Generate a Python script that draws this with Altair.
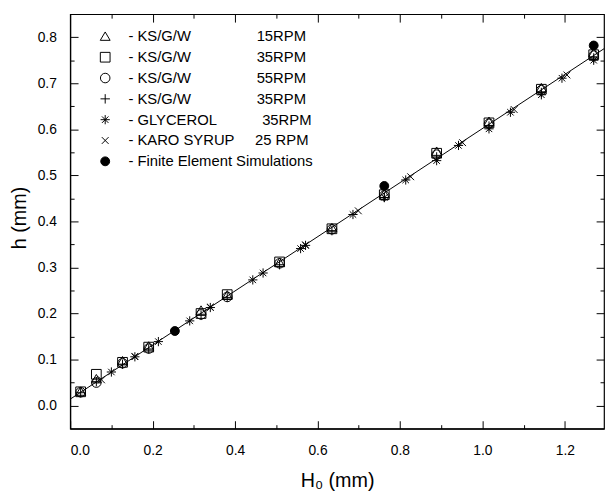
import altair as alt
import pandas as pd

NB = "\u00a0"

# ---- legend categories (display order) ----
series = [
    "- KS/G/W" + NB * 16 + "15RPM",
    "- KS/G/W" + NB * 16 + "35RPM",
    "- KS/G/W" + NB * 16 + "55RPM",
    "- KS/G/W" + NB * 16 + "35RPM" + NB,
    "- GLYCEROL" + NB * 11 + "35RPM",
    "- KARO SYRUP" + NB * 5 + "25 RPM",
    "- Finite Element Simulations",
]
shapes = [
    "M0,-0.9L1,0.8L-1,0.8Z",
    "square",
    "circle",
    "M-1,0H1M0,-1V1",
    "M-1,0H1M0,-1V1M-0.7,-0.7L0.7,0.7M-0.7,0.7L0.7,-0.7",
    "M-0.75,-0.75L0.75,0.75M-0.75,0.75L0.75,-0.75",
    "circle",
]
fills = ["transparent"] * 6 + ["black"]
strokes = ["black"] * 7
sizes = [100, 81, 90, 100, 100, 81, 169]

# ---- data ----
ksgw_x = [0.0254, 0.0635, 0.127, 0.1905, 0.3175, 0.381, 0.508, 0.635, 0.762, 0.889, 1.016, 1.143, 1.27]
tri_y = [0.031, 0.058, 0.097, 0.129, 0.207, 0.240, 0.311, 0.386, 0.460, 0.552, 0.617, 0.690, 0.766]
sq_y = [0.030, 0.068, 0.094, 0.127, 0.200, 0.241, 0.312, 0.384, 0.458, 0.548, 0.614, 0.687, 0.762]
circ_y = [0.029, 0.050, 0.092, 0.124, 0.198, 0.236, 0.309, 0.383, 0.456, 0.545, 0.612, 0.685, 0.760]
plus_y = [0.028, 0.052, 0.090, 0.123, 0.196, 0.235, 0.306, 0.380, 0.452, 0.540, 0.607, 0.680, 0.755]

gly_x = [0.1, 0.157, 0.214, 0.29, 0.34, 0.443, 0.468, 0.559, 0.571, 0.686, 0.762, 0.814,
         0.889, 0.942, 1.016, 1.068, 1.143, 1.193, 1.27]
gly_y = [0.073, 0.106, 0.139, 0.184, 0.213, 0.273, 0.288, 0.341, 0.348, 0.415, 0.452, 0.490,
         0.532, 0.565, 0.601, 0.637, 0.675, 0.711, 0.750]

karo_x = [0.076, 0.157, 0.34, 0.571, 0.699, 0.826, 0.952, 1.077, 1.205]
karo_y = [0.056, 0.107, 0.214, 0.349, 0.423, 0.497, 0.571, 0.643, 0.718]

fe_x = [0.254, 0.762, 1.27]
fe_y = [0.162, 0.477, 0.782]

line_x = [0.0, 1.295]
line_y = [0.014, 0.775]

x_major = [0.0, 0.2, 0.4, 0.6, 0.8, 1.0, 1.2]
x_minor = [0.1, 0.3, 0.5, 0.7, 0.9, 1.1]
y_major = [0.0, 0.1, 0.2, 0.3, 0.4, 0.5, 0.6, 0.7, 0.8]
y_minor = [0.05, 0.15, 0.25, 0.35, 0.45, 0.55, 0.65, 0.75]

# ---- tables ----
rows = []
for xs_, ys_, s in [
    (ksgw_x, tri_y, series[0]),
    (ksgw_x, sq_y, series[1]),
    (ksgw_x, circ_y, series[2]),
    (ksgw_x, plus_y, series[3]),
    (gly_x, gly_y, series[4]),
    (karo_x, karo_y, series[5]),
    (fe_x, fe_y, series[6]),
]:
    for a, b in zip(xs_, ys_):
        rows.append({"x": a, "y": b, "series": s})
pts = pd.DataFrame(rows)
line_df = pd.DataFrame({"x": line_x, "y": line_y})

W, H = 541, 420
FONT = "Liberation Sans, Arial, sans-serif"
IN_MAJ = {"expr": "-8"}   # negative tick size -> ticks point into the plot
IN_MIN = {"expr": "-4"}

xs = alt.Scale(domain=[0, 1.295], nice=False, zero=False)
ys = alt.Scale(domain=[-0.05, 0.85], nice=False, zero=False)

legend = alt.Legend(
    title=None, orient="none", legendX=28, legendY=15,
    labelFontSize=15, labelFont=FONT, labelColor="black", labelLimit=400,
    rowPadding=5.1, labelOffset=16, padding=0,
    symbolStrokeColor="black", symbolStrokeWidth=1,
)

points = alt.Chart(pts).mark_point(stroke="black", strokeWidth=1, opacity=1).encode(
    x=alt.X("x:Q", scale=xs, axis=alt.Axis(
        orient="bottom", values=x_major, format=".1f", ticks=True, tickSize=IN_MAJ, grid=False,
        labelFontSize=14, labelPadding=23, title="H\u2080 (mm)", titleFontSize=20,
        titleY=53, titleBaseline="middle")),
    y=alt.Y("y:Q", scale=ys, axis=alt.Axis(
        orient="left", values=y_major, format=".1f", ticks=True, tickSize=IN_MAJ, grid=False,
        labelFontSize=14, labelPadding=22, title="h (mm)", titleFontSize=20,
        titleX=-51, titleY=206, titleBaseline="middle")),
    shape=alt.Shape("series:N", scale=alt.Scale(domain=series, range=shapes), legend=legend),
    fill=alt.Fill("series:N", scale=alt.Scale(domain=series, range=fills), legend=legend),
    stroke=alt.Stroke("series:N", scale=alt.Scale(domain=series, range=strokes), legend=legend),
    size=alt.Size("series:N", scale=alt.Scale(domain=series, range=sizes), legend=legend),
)


def tick_axis(orient, vals, size):
    return alt.Axis(orient=orient, values=vals, labels=False, domain=False, grid=False,
                    ticks=True, tickSize=size, title="")


# fitted line; its axes carry the inward ticks of the top and right edges
fit = alt.Chart(line_df).mark_line(color="black", strokeWidth=1).encode(
    x=alt.X("x:Q", scale=xs, axis=tick_axis("top", x_major[1:], IN_MAJ)),
    y=alt.Y("y:Q", scale=ys, axis=tick_axis("right", y_major, IN_MAJ)),
)
# invisible copies carrying the minor inward ticks
minor_tb = alt.Chart(line_df).mark_line(opacity=0).encode(
    x=alt.X("x:Q", scale=xs, axis=tick_axis("top", x_minor, IN_MIN)),
    y=alt.Y("y:Q", scale=ys, axis=tick_axis("right", y_minor, IN_MIN)),
)
minor_bl = alt.Chart(line_df).mark_line(opacity=0).encode(
    x=alt.X("x:Q", scale=xs, axis=tick_axis("bottom", x_minor, IN_MIN)),
    y=alt.Y("y:Q", scale=ys, axis=tick_axis("left", y_minor, IN_MIN)),
)

chart = alt.layer(points, fit, minor_tb, minor_bl).resolve_axis(
    x="independent", y="independent"
).properties(
    width=W, height=H,
    background="white",
    autosize=alt.AutoSizeParams(type="none"),
    padding={"left": 63, "top": 3, "right": 1, "bottom": 66},
).configure_view(stroke="black", strokeWidth=1.2).configure_axis(
    labelFont=FONT, titleFont=FONT, labelColor="black", titleColor="black",
    tickColor="black", domainColor="black", domainWidth=1.2, tickWidth=1,
    titleFontWeight="normal",
)

chart.save("out.html", embed_options={"renderer": "svg", "actions": False})
